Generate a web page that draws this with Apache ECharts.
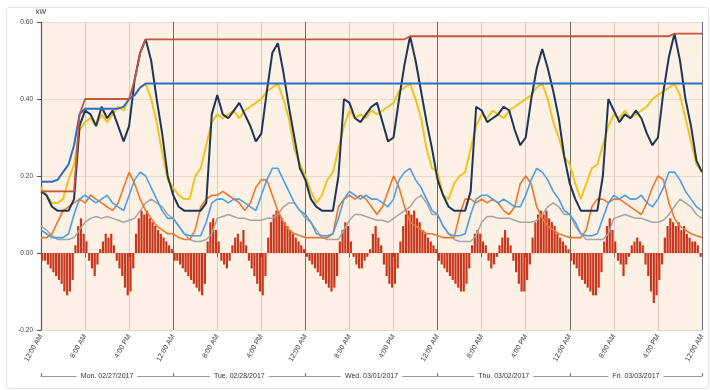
<!DOCTYPE html>
<html><head><meta charset="utf-8">
<script src="https://cdn.jsdelivr.net/npm/echarts@6/dist/echarts.min.js"></script>
<style>html,body{margin:0;padding:0;background:#fff}#c{width:710px;height:390px}</style>
</head><body><div id="c"></div>
<script>
// hourly values, Mon 12:00 AM (hour 0) .. Sat 12:00 AM (hour 120)
const dayLabels = ["Mon. 02/27/2017","Tue. 02/28/2017","Wed. 03/01/2017","Thu. 03/02/2017","Fri. 03/03/2017"];
const yTicks = [-0.2, 0, 0.2, 0.4, 0.6];

const navy = [
 0.16,0.15,0.12,0.11,0.11,0.11,0.14,0.33,0.37,0.36,0.33,0.38,0.35,0.37,0.33,0.29,0.33,0.45,0.52,0.555,0.50,0.40,0.31,0.20,
 0.15,0.12,0.11,0.11,0.11,0.11,0.13,0.36,0.41,0.36,0.35,0.37,0.39,0.36,0.33,0.29,0.31,0.42,0.52,0.545,0.47,0.38,0.30,0.22,
 0.19,0.14,0.12,0.11,0.11,0.11,0.20,0.40,0.39,0.35,0.34,0.36,0.38,0.39,0.34,0.29,0.30,0.40,0.49,0.563,0.50,0.42,0.34,0.27,
 0.19,0.15,0.12,0.11,0.11,0.11,0.16,0.38,0.37,0.34,0.35,0.36,0.38,0.37,0.32,0.28,0.30,0.40,0.48,0.53,0.48,0.42,0.35,0.25,
 0.18,0.14,0.11,0.11,0.11,0.11,0.20,0.40,0.37,0.34,0.36,0.35,0.37,0.35,0.31,0.28,0.30,0.42,0.51,0.57,0.50,0.40,0.33,0.24,0.21];

const yellow = [
 0.17,0.15,0.13,0.13,0.14,0.19,0.23,0.32,0.34,0.35,0.33,0.36,0.34,0.36,0.38,0.37,0.40,0.41,0.43,0.44,0.40,0.34,0.26,0.19,
 0.17,0.15,0.14,0.14,0.20,0.22,0.28,0.34,0.36,0.35,0.36,0.37,0.35,0.37,0.38,0.39,0.40,0.42,0.43,0.44,0.40,0.35,0.27,0.23,
 0.20,0.16,0.13,0.15,0.19,0.21,0.27,0.33,0.37,0.35,0.36,0.35,0.37,0.36,0.37,0.38,0.39,0.42,0.43,0.44,0.40,0.35,0.27,0.22,
 0.21,0.15,0.14,0.18,0.20,0.21,0.27,0.33,0.36,0.35,0.37,0.36,0.35,0.37,0.38,0.39,0.40,0.41,0.43,0.44,0.40,0.34,0.30,0.25,
 0.23,0.18,0.14,0.18,0.22,0.23,0.28,0.33,0.36,0.35,0.37,0.35,0.36,0.37,0.38,0.40,0.41,0.42,0.43,0.44,0.41,0.35,0.29,0.23,0.21];

const peak = [
 0.16,0.16,0.16,0.16,0.16,0.16,0.16,0.36,0.40,0.40,0.40,0.40,0.40,0.40,0.40,0.40,0.40,0.45,0.52,0.555,0.555,0.555,0.555,0.555,
 0.555,0.555,0.555,0.555,0.555,0.555,0.555,0.555,0.555,0.555,0.555,0.555,0.555,0.555,0.555,0.555,0.555,0.555,0.555,0.555,0.555,0.555,0.555,0.555,
 0.555,0.555,0.555,0.555,0.555,0.555,0.555,0.555,0.555,0.555,0.555,0.555,0.555,0.555,0.555,0.555,0.555,0.555,0.555,0.563,0.563,0.563,0.563,0.563,
 0.563,0.563,0.563,0.563,0.563,0.563,0.563,0.563,0.563,0.563,0.563,0.563,0.563,0.563,0.563,0.563,0.563,0.563,0.563,0.563,0.563,0.563,0.563,0.563,
 0.563,0.563,0.563,0.563,0.563,0.563,0.563,0.563,0.563,0.563,0.563,0.563,0.563,0.563,0.563,0.563,0.563,0.563,0.563,0.57,0.57,0.57,0.57,0.57,0.57];

const blue = [
 0.185,0.185,0.185,0.19,0.21,0.23,0.28,0.36,0.375,0.375,0.375,0.375,0.375,0.375,0.375,0.38,0.40,0.41,0.43,0.44,0.44,0.44,0.44,0.44,
 0.44,0.44,0.44,0.44,0.44,0.44,0.44,0.44,0.44,0.44,0.44,0.44,0.44,0.44,0.44,0.44,0.44,0.44,0.44,0.44,0.44,0.44,0.44,0.44,
 0.44,0.44,0.44,0.44,0.44,0.44,0.44,0.44,0.44,0.44,0.44,0.44,0.44,0.44,0.44,0.44,0.44,0.44,0.44,0.44,0.44,0.44,0.44,0.44,
 0.44,0.44,0.44,0.44,0.44,0.44,0.44,0.44,0.44,0.44,0.44,0.44,0.44,0.44,0.44,0.44,0.44,0.44,0.44,0.44,0.44,0.44,0.44,0.44,
 0.44,0.44,0.44,0.44,0.44,0.44,0.44,0.44,0.44,0.44,0.44,0.44,0.44,0.44,0.44,0.44,0.44,0.44,0.44,0.44,0.44,0.44,0.44,0.44,0.44];

const lightBlue = [
 0.06,0.05,0.04,0.04,0.04,0.05,0.10,0.14,0.15,0.14,0.13,0.14,0.15,0.13,0.12,0.11,0.15,0.19,0.21,0.20,0.17,0.14,0.11,0.09,
 0.09,0.07,0.05,0.045,0.045,0.045,0.08,0.13,0.14,0.14,0.13,0.14,0.14,0.13,0.12,0.11,0.15,0.19,0.22,0.22,0.19,0.16,0.13,0.11,
 0.10,0.08,0.05,0.045,0.045,0.05,0.09,0.14,0.16,0.15,0.14,0.15,0.14,0.14,0.13,0.12,0.14,0.19,0.21,0.22,0.19,0.17,0.14,0.11,
 0.10,0.07,0.05,0.045,0.045,0.05,0.10,0.14,0.15,0.15,0.14,0.13,0.14,0.13,0.12,0.12,0.15,0.19,0.22,0.21,0.19,0.16,0.14,0.11,
 0.10,0.08,0.05,0.045,0.045,0.05,0.09,0.13,0.15,0.14,0.15,0.14,0.14,0.15,0.13,0.12,0.14,0.17,0.21,0.21,0.19,0.16,0.14,0.12,0.11];

const orange = [
 0.04,0.04,0.05,0.08,0.11,0.12,0.13,0.14,0.13,0.15,0.14,0.13,0.12,0.11,0.13,0.17,0.21,0.18,0.14,0.11,0.09,0.07,0.06,0.05,
 0.05,0.04,0.035,0.035,0.06,0.12,0.14,0.15,0.15,0.16,0.15,0.14,0.13,0.11,0.13,0.17,0.19,0.19,0.15,0.11,0.08,0.06,0.05,0.045,
 0.04,0.04,0.04,0.04,0.04,0.05,0.12,0.14,0.15,0.14,0.15,0.14,0.12,0.10,0.12,0.16,0.20,0.17,0.12,0.08,0.07,0.06,0.05,0.05,
 0.045,0.04,0.04,0.04,0.10,0.14,0.14,0.13,0.14,0.13,0.14,0.13,0.11,0.10,0.12,0.18,0.20,0.18,0.12,0.09,0.07,0.06,0.05,0.045,
 0.04,0.04,0.04,0.06,0.12,0.14,0.14,0.13,0.14,0.14,0.13,0.12,0.11,0.10,0.13,0.17,0.20,0.19,0.13,0.09,0.07,0.06,0.05,0.045,0.04];

const gray = [
 0.07,0.06,0.045,0.035,0.035,0.035,0.04,0.06,0.08,0.09,0.095,0.09,0.095,0.09,0.085,0.08,0.085,0.09,0.11,0.13,0.14,0.13,0.12,0.10,
 0.09,0.07,0.05,0.035,0.03,0.03,0.035,0.05,0.09,0.095,0.10,0.095,0.09,0.09,0.085,0.085,0.085,0.09,0.09,0.10,0.12,0.13,0.13,0.11,
 0.09,0.08,0.06,0.04,0.035,0.035,0.035,0.06,0.085,0.10,0.10,0.095,0.09,0.085,0.085,0.08,0.09,0.10,0.11,0.12,0.14,0.15,0.13,0.10,
 0.10,0.07,0.05,0.035,0.03,0.03,0.03,0.045,0.08,0.095,0.095,0.09,0.09,0.09,0.085,0.08,0.08,0.08,0.085,0.10,0.12,0.13,0.12,0.10,
 0.10,0.07,0.05,0.035,0.035,0.035,0.035,0.05,0.09,0.095,0.10,0.095,0.09,0.09,0.085,0.08,0.08,0.085,0.10,0.12,0.14,0.13,0.12,0.10,0.09];

// half-hour bars (48 per day)
const net = [
 -0.02,-0.02,-0.03,-0.04,-0.05,-0.06,-0.07,-0.08,-0.10,-0.11,-0.10,-0.07,
 0.02,0.07,0.09,0.05,0.03, -0.02,-0.04,-0.06,-0.03, 0.01,0.03,0.05,0.04,0.05,0.02,
 -0.02,-0.04,-0.06,-0.09,-0.11,-0.10,-0.04,
 0.05,0.09,0.11,0.10,0.11,0.09,0.08,0.07,0.06,0.05,0.04,0.03,0.02,0.01,

 -0.02,-0.02,-0.03,-0.04,-0.05,-0.06,-0.07,-0.08,-0.09,-0.10,-0.11,-0.08,
 0.03,0.08,0.09,0.06,0.03, -0.02,-0.03,-0.04,-0.02, 0.02,0.04,0.05,0.03,0.06,0.02,
 -0.02,-0.04,-0.06,-0.08,-0.10,-0.11,-0.06,
 0.04,0.08,0.10,0.11,0.10,0.09,0.08,0.07,0.06,0.05,0.04,0.03,0.02,0.01,

 -0.01,-0.02,-0.03,-0.04,-0.05,-0.06,-0.07,-0.08,-0.09,-0.10,-0.09,-0.06,
 0.03,0.06,0.08,0.07,0.03, -0.01,-0.03,-0.04,-0.04,-0.02,-0.01,0.01, 0.05,0.07,0.04,0.02,
 -0.03,-0.06,-0.08,-0.09,-0.08,-0.04,
 0.03,0.07,0.10,0.11,0.10,0.11,0.09,0.08,0.06,0.05,0.04,0.03,0.02,0.01,

 -0.02,-0.03,-0.04,-0.05,-0.06,-0.07,-0.08,-0.09,-0.10,-0.10,-0.08,-0.04,
 0.02,0.05,0.06,0.05,0.03,0.02, -0.02,-0.04,-0.03,-0.01, 0.02,0.04,0.06,0.04,0.02,
 -0.02,-0.05,-0.08,-0.10,-0.10,-0.07,-0.03,
 0.04,0.08,0.10,0.11,0.10,0.11,0.09,0.08,0.07,0.05,0.04,0.03,0.02,0.01,

 -0.02,-0.03,-0.04,-0.06,-0.07,-0.08,-0.09,-0.10,-0.11,-0.11,-0.09,-0.05,
 0.03,0.07,0.09,0.06,0.03, -0.02,-0.03,-0.06,-0.03,-0.01, 0.02,0.03,0.04,0.03,0.02,
 -0.03,-0.06,-0.10,-0.13,-0.11,-0.07,-0.03,
 0.04,0.07,0.09,0.08,0.07,0.08,0.06,0.07,0.05,0.04,0.03,0.03,0.02,-0.01];

const hourly = a => a.map((v, i) => [i, v]);
const halfHourly = a => a.map((v, i) => [i * 0.5 + 0.25, v]);
const FONT = 'Liberation Sans';

const chart = echarts.init(document.getElementById('c'), null, {renderer: 'canvas'});
const lineS = (name, data, color, width, z) => ({
  name, type: 'line', data: hourly(data), showSymbol: false, symbol: 'none',
  lineStyle: {color, width}, itemStyle: {color}, z, animation: false
});
chart.setOption({
  animation: false,
  backgroundColor: '#fff',
  graphic: [{type: 'rect', left: 4, top: 5, shape: {width: 702, height: 381, r: 3},
    style: {fill: 'none', stroke: '#dfe6ea', lineWidth: 1}, z: -10}],
  grid: {left: 41, right: 8, top: 22, bottom: 60, show: true, backgroundColor: '#fdf1e5', borderWidth: 0},
  xAxis: [{
    type: 'value', min: 0, max: 120, interval: 8,
    axisLine: {show: false},
    axisTick: {show: true, length: 4, lineStyle: {color: '#666'}},
    axisLabel: {rotate: 60, fontSize: 7, color: '#333', fontFamily: FONT, margin: 5,
      formatter: v => { const h = v % 24; return h === 0 ? '12:00 AM' : (h === 8 ? '8:00 AM' : '4:00 PM'); }},
    splitLine: {show: true, lineStyle: {color: ['#6e6a66', '#dccbbb', '#dccbbb'], width: 1}}
  }, {
    type: 'value', min: 0, max: 120, position: 'bottom', offset: 46,
    axisLine: {show: true, lineStyle: {color: '#9a9a9a', width: 1}},
    axisTick: {show: true, length: 3, inside: true, customValues: [0, 24, 48, 72, 96, 120], lineStyle: {color: '#777'}},
    axisLabel: {customValues: [12, 36, 60, 84, 108], fontSize: 7, color: '#333', fontFamily: FONT,
      margin: 0, verticalAlign: 'middle', backgroundColor: '#fff', padding: [1, 4],
      formatter: v => dayLabels[Math.round((v - 12) / 24)]},
    splitLine: {show: false}
  }],
  yAxis: {
    type: 'value', min: yTicks[0], max: yTicks[yTicks.length - 1], interval: 0.2,
    name: 'kW', nameLocation: 'end', nameGap: 6,
    nameTextStyle: {fontSize: 7, color: '#333', fontFamily: FONT, align: 'center', padding: [0, 0, 0, 0]},
    axisLine: {show: true, lineStyle: {color: '#555', width: 1.2}},
    axisTick: {show: true, length: 4, lineStyle: {color: '#555'}},
    axisLabel: {fontSize: 6.5, color: '#444', fontFamily: FONT, formatter: v => v.toFixed(2)},
    splitLine: {show: true, lineStyle: {color: '#e9d9c9', width: 1}}
  },
  series: [
    {name: 'net', type: 'bar', data: halfHourly(net), barWidth: 2.2,
     itemStyle: {color: '#c8361c'}, z: 1, animation: false},
    lineS('gray', gray, '#a5a5a5', 1.5, 2),
    lineS('orange', orange, '#ec772c', 1.6, 3),
    lineS('lightBlue', lightBlue, '#4a9fe8', 1.6, 4),
    lineS('yellow', yellow, '#f0c31e', 2, 5),
    lineS('navy', navy, '#1d3658', 2, 6),
    lineS('blue', blue, '#2f6cc2', 2, 7),
    lineS('peak', peak, '#c4563e', 1.8, 8)
  ]
});
</script></body></html>
